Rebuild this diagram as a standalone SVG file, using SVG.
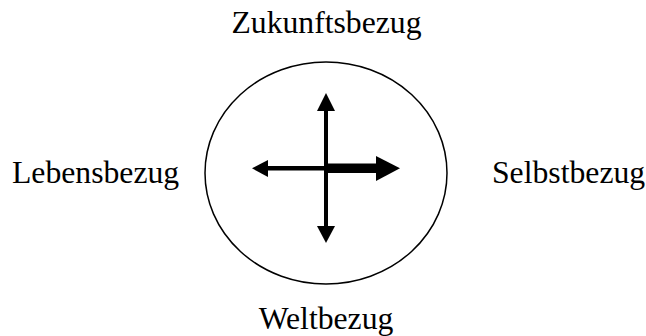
<svg xmlns="http://www.w3.org/2000/svg" width="646" height="336" viewBox="0 0 646 336">
<style>
.lbl{font-family:"Liberation Serif","Times New Roman",serif;font-size:31.7px;fill:#000}
.ar{fill:#000;stroke:none}
</style>
<rect width="646" height="336" fill="#fff"/>
<g id="circle">
<ellipse cx="326" cy="173" rx="121" ry="111" fill="none" stroke="#000" stroke-width="1.5"/>
</g>
<g id="connectors">
<rect class="ar" x="324" y="110" width="4" height="117"/>
<polygon class="ar" points="326,93 335,111 317,111"/>
<polygon class="ar" points="326,243 335,226 317,226"/>
<rect class="ar" x="267" y="166" width="60" height="4.5"/>
<polygon class="ar" points="252,168.3 268,160 268,177"/>
<rect class="ar" x="326" y="163.5" width="51" height="9.5"/>
<polygon class="ar" points="400,168.3 376,156 376,181"/>
</g>
<g id="zukunft"><text class="lbl" x="326.5" y="33" text-anchor="middle">Zukunftsbezug</text></g>
<g id="leben"><text class="lbl" x="12" y="183">Lebensbezug</text></g>
<g id="selbst"><text class="lbl" x="492" y="183">Selbstbezug</text></g>
<g id="welt"><text class="lbl" x="326" y="328.5" text-anchor="middle">Weltbezug</text></g>
</svg>
